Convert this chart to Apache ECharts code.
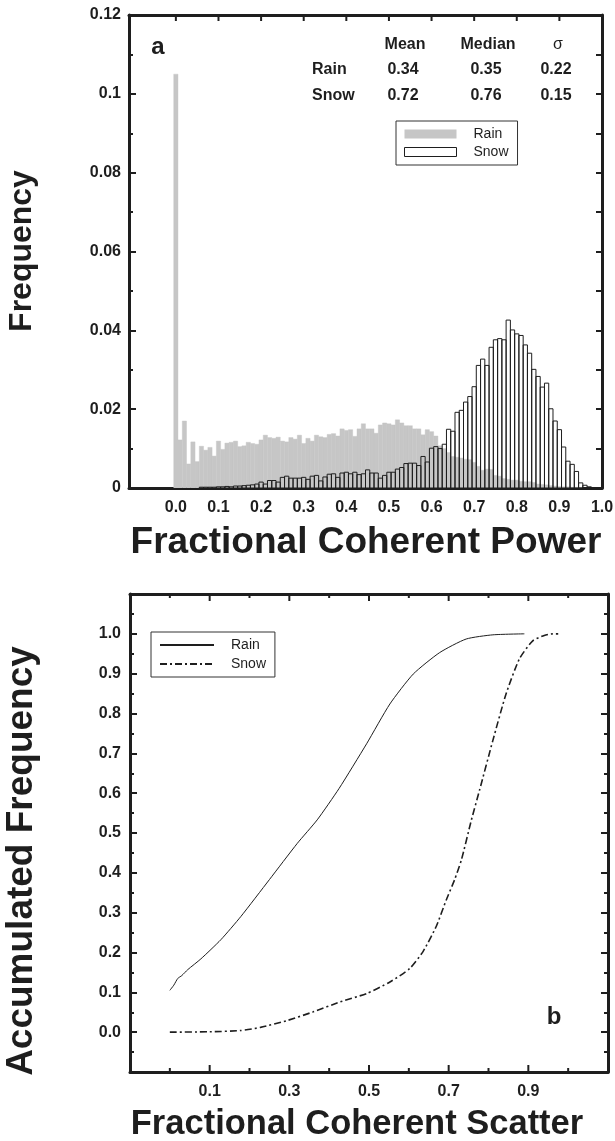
<!DOCTYPE html>
<html><head><meta charset="utf-8">
<script src="https://cdn.jsdelivr.net/npm/echarts@6/dist/echarts.min.js"></script>
<style>html,body{margin:0;padding:0;background:#fff}#c{width:615px;height:1141px}</style>
</head><body><div id="c"></div>
<script>
// ---------- Panel a: histogram (bin centres, frequency) ----------
const binCenters = [0.00,0.01,0.02,0.03,0.04,0.05,0.06,0.07,0.08,0.09,0.10,0.11,0.12,0.13,0.14,0.15,0.16,0.17,0.18,0.19,
0.20,0.21,0.22,0.23,0.24,0.25,0.26,0.27,0.28,0.29,0.30,0.31,0.32,0.33,0.34,0.35,0.36,0.37,0.38,0.39,
0.40,0.41,0.42,0.43,0.44,0.45,0.46,0.47,0.48,0.49,0.50,0.51,0.52,0.53,0.54,0.55,0.56,0.57,0.58,0.59,
0.60,0.61,0.62,0.63,0.64,0.65,0.66,0.67,0.68,0.69,0.70,0.71,0.72,0.73,0.74,0.75,0.76,0.77,0.78,0.79,
0.80,0.81,0.82,0.83,0.84,0.85,0.86,0.87,0.88,0.89,0.90,0.91,0.92,0.93,0.94,0.95,0.96,0.97,0.98,0.99];
const binWidth = 0.01;
const rainFreq = [0.105,0.0122,0.017,0.0061,0.0117,0.0067,0.0106,0.0096,0.0103,0.0081,
0.0119,0.0098,0.0114,0.0116,0.0119,0.0105,0.0107,0.0116,0.0113,0.0111,
0.0122,0.0134,0.0128,0.0126,0.0129,0.0119,0.0117,0.0128,0.0124,0.0134,
0.0113,0.0126,0.0119,0.0134,0.0130,0.0128,0.0136,0.0138,0.0132,0.0150,
0.0146,0.0148,0.0131,0.0150,0.0163,0.0150,0.0150,0.0139,0.0160,0.0165,
0.0163,0.0160,0.0173,0.0165,0.0158,0.0158,0.0150,0.0150,0.0135,0.0148,
0.0143,0.0132,0.0107,0.0100,0.0090,0.0080,0.0078,0.0076,0.0073,0.0072,
0.0065,0.0055,0.0045,0.0048,0.0047,0.0032,0.0030,0.0024,0.0022,0.0020,
0.0020,0.0017,0.0016,0.0016,0.0014,0.0010,0.0009,0.0008,0.0006,0.0005,
0.0004,0.0003,0.0003,0.0002,0.0002,0.0001,0,0,0,0];
const snowFreq = [0,0,0,0,0,0,0.0002,0.0002,0.0002,0.0002,
0.0003,0.0003,0.0004,0.0003,0.0005,0.0005,0.0006,0.0007,0.0008,0.0010,
0.0015,0.0010,0.0019,0.0019,0.0015,0.0027,0.0030,0.0025,0.0025,0.0025,
0.0027,0.0022,0.0030,0.0032,0.0018,0.0028,0.0035,0.0036,0.0027,0.0038,
0.0040,0.0036,0.0040,0.0034,0.0036,0.0046,0.0038,0.0038,0.0025,0.0032,
0.0040,0.0040,0.0048,0.0052,0.0062,0.0063,0.0063,0.0057,0.0080,0.0066,
0.0101,0.0105,0.0100,0.0111,0.0149,0.0144,0.0192,0.0197,0.0218,0.0232,
0.0257,0.0311,0.0327,0.0311,0.0357,0.0376,0.0379,0.0376,0.0426,0.0401,
0.0391,0.0387,0.0363,0.0342,0.0301,0.0283,0.0256,0.0266,0.0201,0.0170,
0.0148,0.0104,0.0068,0.0060,0.0042,0.0013,0.0007,0.0003,0,0];
const histXTicks = [0.0,0.1,0.2,0.3,0.4,0.5,0.6,0.7,0.8,0.9,1.0];
const histTopTicks = [0.0,0.1,0.2,0.3,0.4,0.5,0.6,0.7,0.8,0.9];
const statHeaders = ['Mean','Median','σ'];
const statRowNames = ['Rain','Snow'];
const statMean = ['0.34','0.72'];
const statMedian = ['0.35','0.76'];
const statSigma = ['0.22','0.15'];

// ---------- Panel b: accumulated frequency ----------
const rainCumX = [0.0,0.01,0.02,0.03,0.045,0.078,0.128,0.178,0.25,0.32,0.37,0.425,0.494,0.5525,0.611,0.6775,0.744,0.811,0.89];
const rainCumY = [0.105,0.118,0.135,0.142,0.157,0.184,0.232,0.290,0.383,0.474,0.533,0.612,0.724,0.824,0.899,0.953,0.987,0.9975,1.0];
const snowCumX = [0.0,0.1,0.1775,0.2275,0.294,0.36,0.4275,0.494,0.5525,0.6025,0.636,0.669,0.694,0.715,0.732,0.757,0.7775,0.811,0.844,0.8775,0.911,0.94,0.961,0.975];
const snowCumY = [0.0,0.001,0.004,0.012,0.029,0.051,0.076,0.097,0.126,0.16,0.203,0.266,0.332,0.383,0.4325,0.5325,0.6075,0.7325,0.849,0.937,0.9825,0.996,1.0,1.0];
const cumMajorX = [0.1,0.3,0.5,0.7,0.9];
const cumMinorX = [0.0,0.2,0.4,0.6,0.8,1.0];

const FONT = '"Liberation Sans", Arial, Helvetica, sans-serif';
const INK = '#1e1e1e';
const RAIN_GRAY = '#c6c6c6';

const chart = echarts.init(document.getElementById('c'), null, {renderer: 'canvas'});

function pairs(xs, ys) { return xs.map((x, i) => [x, ys[i]]); }

function barRenderer(fill, stroke, lw) {
  return function (params, api) {
    const x = api.value(0), y = api.value(1);
    if (!y) return null;
    const p1 = api.coord([x - binWidth / 2, y]);
    const p2 = api.coord([x + binWidth / 2, 0]);
    return {
      type: 'rect',
      shape: {x: p1[0], y: p1[1], width: p2[0] - p1[0], height: p2[1] - p1[1]},
      style: {fill: fill, stroke: stroke, lineWidth: lw}
    };
  };
}

// x-axis tick marks drawn through the axis scale (frame edges at yTopVal / yBotVal)
function tickRenderer(yTopVal, yBotVal, len) {
  return function (params, api) {
    const v = api.value(0);
    const children = [];
    if (yTopVal != null) {
      const p = api.coord([v, yTopVal]);
      children.push({type: 'rect', shape: {x: p[0] - 1, y: p[1], width: 2, height: len}, style: {fill: INK}});
    }
    if (yBotVal != null) {
      const p = api.coord([v, yBotVal]);
      children.push({type: 'rect', shape: {x: p[0] - 1, y: p[1] - len, width: 2, height: len}, style: {fill: INK}});
    }
    return {type: 'group', children: children};
  };
}
function tickSeries(xIdx, yIdx, values, yTopVal, yBotVal, len) {
  return {type: 'custom', xAxisIndex: xIdx, yAxisIndex: yIdx, clip: false, silent: true, z: 20,
    renderItem: tickRenderer(yTopVal, yBotVal, len), encode: {x: 0, y: 1},
    data: values.map(v => [v, yBotVal != null ? yBotVal : yTopVal])};
}

const frameLine = {show: true, onZero: false, lineStyle: {color: INK, width: 3}};
const tickLabel = {color: INK, fontFamily: FONT, fontWeight: 'bold', fontSize: 16};
const tickLine = {color: INK, width: 2};

const gridA = {left: 129, top: 15, width: 473, height: 473, containLabel: false, outerBoundsMode: 'none'};
const gridB = {left: 130, top: 594, width: 478, height: 478, containLabel: false, outerBoundsMode: 'none'};

const fmt1 = v => (Math.abs(v) < 1e-9 ? 0 : v).toFixed(1);

const statX = [405, 488, 558];
const statRowY = [70, 96];
const graphics = [];
statHeaders.forEach((h, i) => graphics.push({type: 'text', x: statX[i], y: 45,
  style: {text: h, fill: INK, font: (h === 'σ' ? 'normal ' : 'bold ') + '16px ' + FONT, textAlign: 'center', textVerticalAlign: 'middle'}}));
statRowNames.forEach((n, r) => {
  graphics.push({type: 'text', x: 312, y: statRowY[r], style: {text: n, fill: INK, font: 'bold 16px ' + FONT, textAlign: 'left', textVerticalAlign: 'middle'}});
  [statMean[r], statMedian[r], statSigma[r]].forEach((v, i) => graphics.push({type: 'text', x: statX[i] - 2, y: statRowY[r],
    style: {text: v, fill: INK, font: 'bold 16px ' + FONT, textAlign: 'center', textVerticalAlign: 'middle'}}));
});
graphics.push({type: 'text', x: 158, y: 47, style: {text: 'a', fill: INK, font: 'bold 24px ' + FONT, textAlign: 'center', textVerticalAlign: 'middle'}});
graphics.push({type: 'text', x: 554, y: 1017, style: {text: 'b', fill: INK, font: 'bold 24px ' + FONT, textAlign: 'center', textVerticalAlign: 'middle'}});
// axis titles
graphics.push({type: 'text', x: 366, y: 543, style: {text: 'Fractional Coherent Power', fill: INK, font: 'bold 37px ' + FONT, textAlign: 'center', textVerticalAlign: 'middle'}});
graphics.push({type: 'text', x: 357, y: 1124, style: {text: 'Fractional Coherent Scatter', fill: INK, font: 'bold 34.5px ' + FONT, textAlign: 'center', textVerticalAlign: 'middle'}});
graphics.push({type: 'text', x: 22, y: 251, rotation: Math.PI / 2, style: {text: 'Frequency', fill: INK, font: 'bold 32px ' + FONT, textAlign: 'center', textVerticalAlign: 'middle'}});
graphics.push({type: 'text', x: 22, y: 861, rotation: Math.PI / 2, style: {text: 'Accumulated Frequency', fill: INK, font: 'bold 37px ' + FONT, textAlign: 'center', textVerticalAlign: 'middle'}});

const hiddenSym = {color: 'rgba(0,0,0,0)', borderColor: 'rgba(0,0,0,0)', borderWidth: 0};

const option = {
  backgroundColor: '#fff',
  animation: false,
  textStyle: {fontFamily: FONT},
  grid: [gridA, gridB],
  graphic: graphics,
  tooltip: {show: false},
  legend: [
    {
      left: 396, top: 121, orient: 'vertical', selectedMode: false,
      itemWidth: 52, itemHeight: 9, itemGap: 4,
      padding: [6, 9, 6, 8], borderColor: '#333', borderWidth: 1, backgroundColor: '#fff',
      textStyle: {fontSize: 14, color: INK, fontFamily: FONT, padding: [0, 0, 0, 12]},
      data: [
        {name: 'Rain', icon: 'rect', itemStyle: {color: RAIN_GRAY, borderWidth: 0}},
        {name: 'Snow', icon: 'rect', itemStyle: {color: '#fff', borderColor: INK, borderWidth: 1}}
      ]
    },
    {
      left: 151, top: 632, orient: 'vertical', selectedMode: false,
      itemWidth: 54, itemHeight: 10, itemGap: 5,
      padding: [6, 5, 6, 8], borderColor: '#333', borderWidth: 1, backgroundColor: '#fff',
      textStyle: {fontSize: 14, color: INK, fontFamily: FONT, padding: [0, 0, 0, 12]},
      itemStyle: hiddenSym,
      data: [{name: 'Rain ', itemStyle: hiddenSym}, {name: 'Snow ', itemStyle: hiddenSym}]
    }
  ],
  xAxis: [
    {gridIndex: 0, type: 'value', position: 'bottom', min: -0.11, max: 1.0,
      axisLine: frameLine, axisTick: {show: false}, splitLine: {show: false},
      axisLabel: Object.assign({customValues: histXTicks, formatter: fmt1, margin: 12}, tickLabel)},
    {gridIndex: 0, type: 'value', position: 'top', min: -0.11, max: 1.0,
      axisLine: frameLine, splitLine: {show: false}, axisLabel: {show: false}, axisTick: {show: false}},
    {gridIndex: 1, type: 'value', position: 'bottom', min: -0.1, max: 1.1,
      axisLine: frameLine, splitLine: {show: false}, axisTick: {show: false},
      axisLabel: Object.assign({customValues: cumMajorX, formatter: fmt1, margin: 12}, tickLabel)},
    {gridIndex: 1, type: 'value', position: 'top', min: -0.1, max: 1.1,
      axisLine: frameLine, splitLine: {show: false}, axisLabel: {show: false}, axisTick: {show: false}}
  ],
  yAxis: [
    {gridIndex: 0, type: 'value', position: 'left', min: 0, max: 0.12, interval: 0.02,
      axisLine: frameLine, splitLine: {show: false},
      axisTick: {show: true, inside: true, length: 7, lineStyle: tickLine},
      minorTick: {show: true, splitNumber: 2, length: 4, lineStyle: tickLine},
      axisLabel: Object.assign({margin: 8, formatter: v => (Math.abs(v) < 1e-9 ? '0' : String(+v.toFixed(2)))}, tickLabel)},
    {gridIndex: 0, type: 'value', position: 'right', min: 0, max: 0.12, interval: 0.01,
      axisLine: frameLine, splitLine: {show: false}, axisLabel: {show: false},
      axisTick: {show: true, inside: true, length: 6, lineStyle: tickLine}},
    {gridIndex: 1, type: 'value', position: 'left', min: -0.1, max: 1.1, interval: 0.1,
      axisLine: frameLine, splitLine: {show: false},
      axisTick: {show: true, inside: true, length: 7, lineStyle: tickLine},
      minorTick: {show: true, splitNumber: 2, length: 4, lineStyle: tickLine},
      axisLabel: Object.assign({margin: 9, formatter: v => (v < -0.05 || v > 1.05) ? '' : fmt1(v)}, tickLabel)},
    {gridIndex: 1, type: 'value', position: 'right', min: -0.1, max: 1.1, interval: 0.1,
      axisLine: frameLine, splitLine: {show: false}, axisLabel: {show: false},
      axisTick: {show: true, inside: true, length: 7, lineStyle: tickLine},
      minorTick: {show: true, splitNumber: 2, length: 4, lineStyle: tickLine}}
  ],
  series: [
    {name: 'Rain', type: 'custom', xAxisIndex: 0, yAxisIndex: 0, clip: true,
      itemStyle: {color: RAIN_GRAY},
      renderItem: barRenderer(RAIN_GRAY, RAIN_GRAY, 0.4),
      encode: {x: 0, y: 1}, data: pairs(binCenters, rainFreq), z: 2},
    {name: 'Snow', type: 'custom', xAxisIndex: 0, yAxisIndex: 0, clip: true,
      itemStyle: {color: '#fff', borderColor: INK},
      renderItem: barRenderer('rgba(255,255,255,0)', INK, 1),
      encode: {x: 0, y: 1}, data: pairs(binCenters, snowFreq), z: 3},
    {name: 'Rain ', type: 'line', xAxisIndex: 2, yAxisIndex: 2, showSymbol: false, symbol: 'none',
      smooth: 0.2,
      lineStyle: {color: INK, width: 1}, itemStyle: {color: INK},
      data: pairs(rainCumX, rainCumY)},
    {name: 'Snow ', type: 'line', xAxisIndex: 2, yAxisIndex: 2, showSymbol: false, symbol: 'none',
      smooth: 0.2,
      lineStyle: {color: INK, width: 1.6, type: [7, 3, 2, 3]}, itemStyle: {color: INK},
      data: pairs(snowCumX, snowCumY)},
    tickSeries(0, 0, histTopTicks, 0.12, null, 6),
    tickSeries(2, 2, cumMajorX, 1.1, -0.1, 7),
    tickSeries(2, 2, cumMinorX, 1.1, -0.1, 4)
  ]
};
chart.setOption(option);
</script>
</body></html>
